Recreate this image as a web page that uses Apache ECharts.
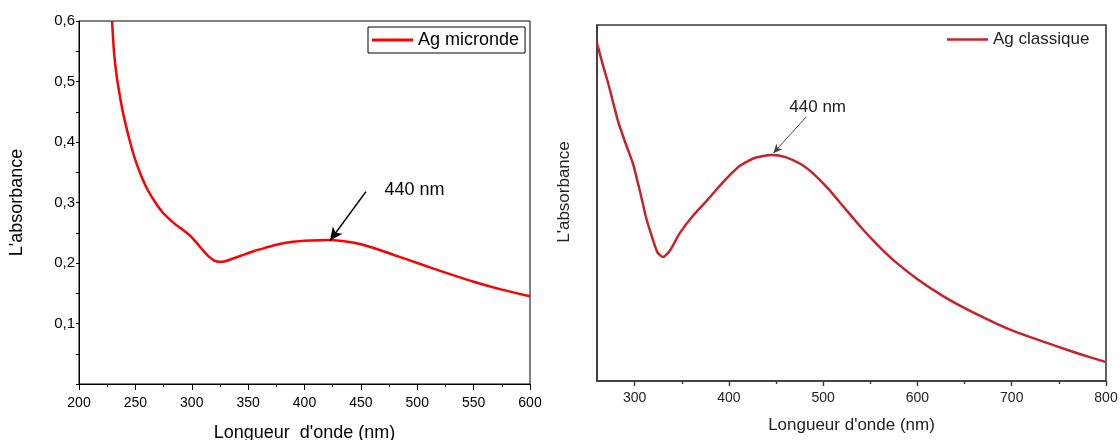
<!DOCTYPE html>
<html>
<head>
<meta charset="utf-8">
<script src="https://cdn.jsdelivr.net/npm/echarts@6/dist/echarts.min.js"></script>
<style>html,body{margin:0;padding:0;background:#fff}#c{width:1120px;height:440px}</style>
</head>
<body>
<div id="c"></div>
<script>
// Left panel: Ag micronde
const microndeNm = [229.3,231,233,235,238,241,245,250,255,260,267,274,280,286,292,298,304,310,315,320,324,330,336,345,354,365,377,390,405,420,435,450,466,483,500,525,550,575,600];
const microndeAbs = [0.600,0.550,0.515,0.490,0.458,0.432,0.402,0.370,0.345,0.324,0.302,0.284,0.273,0.263,0.255,0.246,0.234,0.221,0.211,0.204,0.202,0.203,0.207,0.213,0.219,0.225,0.231,0.235,0.237,0.238,0.236,0.231,0.222,0.211,0.200,0.184,0.169,0.156,0.145];
// Right panel: Ag classique (arbitrary units, no y scale shown)
const classiqueNm = [260,266,272,282,290,298,306,312,317,324,330,337,348,362,377,395,412,428,445,460,477,490,505,522,540,558,576,600,625,647,672,695,719,745,772,800];
const classiqueAbs = [0.949,0.890,0.835,0.733,0.670,0.612,0.528,0.460,0.416,0.362,0.348,0.365,0.416,0.465,0.508,0.562,0.605,0.627,0.635,0.629,0.608,0.581,0.541,0.488,0.432,0.381,0.336,0.286,0.242,0.209,0.176,0.148,0.124,0.100,0.076,0.053];
const leftYTicks = [0.1,0.2,0.3,0.4,0.5,0.6];
const rightMajorTicks = [300,400,500,600,700,800];
const rightMinorTicks = [350,450,550,650,750];
// annotations (data coordinates)
const leftArrow = [[454.5,0.318],[422.6,0.237]];
const leftNote = [471,0.321];
const rightArrow = [[482,0.742],[447,0.640]];
const rightNote = [464,0.770];

const zip = (a,b)=>a.map((v,i)=>[v,b[i]]);
const FONT = 'Liberation Sans, Arial, sans-serif';

const chart = echarts.init(document.getElementById('c'), null, {renderer:'canvas'});
chart.setOption({
  animation:false,
  textStyle:{fontFamily:FONT},
  grid:[
    {left:79, top:21, width:451, height:363, show:true, borderColor:'#000', borderWidth:1, containLabel:false, outerBoundsMode:'none'},
    {left:597, top:25, width:509, height:356, show:true, borderColor:'#3a3a3a', borderWidth:1.6, containLabel:false, outerBoundsMode:'none'}
  ],
  legend:[
    {data:['Ag micronde'], left:368, top:27, orient:'horizontal', padding:[4,6,4,4],
     borderColor:'#000', borderWidth:1, icon:'rect', itemWidth:41, itemHeight:3, itemGap:5,
     textStyle:{fontSize:18, color:'#000', fontFamily:FONT}},
    {data:['Ag classique'], left:947, top:31, padding:0, icon:'rect', itemWidth:41, itemHeight:2.5,
     textStyle:{fontSize:17, color:'#222', fontFamily:FONT}}
  ],
  xAxis:[
    {gridIndex:0, type:'value', min:200, max:600, interval:50,
     name:"Longueur  d'onde (nm)", nameLocation:'middle', nameGap:40,
     nameTextStyle:{fontSize:18, color:'#000'},
     axisLine:{lineStyle:{color:'#000', width:1}},
     axisTick:{show:true, length:6, lineStyle:{color:'#000'}},
     minorTick:{show:true, splitNumber:2, length:3, lineStyle:{color:'#000'}},
     axisLabel:{fontSize:14, color:'#000', margin:12},
     splitLine:{show:false}},
    {gridIndex:1, type:'value', min:260, max:800, position:'bottom',
     name:"Longueur d'onde (nm)", nameLocation:'middle', nameGap:36,
     nameTextStyle:{fontSize:17, color:'#222'},
     axisLine:{onZero:false, lineStyle:{color:'#3a3a3a', width:1.6}},
     axisTick:{show:true, length:5, customValues:rightMajorTicks, lineStyle:{color:'#3a3a3a', width:1.4}},
     axisLabel:{fontSize:14, color:'#222', margin:10, customValues:rightMajorTicks},
     splitLine:{show:false}},
    {gridIndex:1, type:'value', min:260, max:800, position:'bottom',
     axisLine:{show:false, onZero:false},
     axisTick:{show:true, inside:false, length:3, customValues:rightMinorTicks, lineStyle:{color:'#3a3a3a', width:1.4}},
     axisLabel:{show:false, customValues:rightMinorTicks},
     splitLine:{show:false}}
  ],
  yAxis:[
    {gridIndex:0, type:'value', min:0, max:0.6, interval:0.1,
     name:"L'absorbance", nameLocation:'middle', nameGap:53,
     nameTextStyle:{fontSize:18, color:'#000'},
     axisLine:{show:true, lineStyle:{color:'#000', width:1}},
     axisTick:{show:true, length:3, lineStyle:{color:'#000'}},
     minorTick:{show:true, splitNumber:2, length:3, lineStyle:{color:'#000'}},
     axisLabel:{fontSize:15, color:'#000', margin:4,
       formatter:v=>leftYTicks.some(t=>Math.abs(t-v)<1e-9)? v.toFixed(1).replace('.',',') : ''},
     splitLine:{show:false}},
    {gridIndex:1, type:'value', min:0, max:1,
     name:"L'absorbance", nameLocation:'middle', nameGap:24,
     nameTextStyle:{fontSize:17, color:'#222', padding:[0,0,0,22]},
     axisLine:{show:true, lineStyle:{color:'#3a3a3a', width:1.6}},
     axisTick:{show:false}, axisLabel:{show:false}, splitLine:{show:false}}
  ],
  series:[
    {name:'Ag micronde', type:'line', xAxisIndex:0, yAxisIndex:0, data:zip(microndeNm, microndeAbs),
     showSymbol:false, symbol:'none', smooth:0.25, color:'#ff0000',
     lineStyle:{color:'#ff0000', width:2.5},
     markLine:{silent:true, animation:false, symbol:['none','arrow'], symbolSize:[9,13],
       lineStyle:{color:'#000', width:1.6, type:'solid'}, label:{show:false},
       data:[[{coord:leftArrow[0]},{coord:leftArrow[1]}]]},
     markPoint:{silent:true, symbol:'circle', symbolSize:0,
       label:{show:true, position:'right', distance:0, formatter:'440 nm', fontSize:18, color:'#000', fontFamily:FONT},
       data:[{coord:leftNote}]}},
    {name:'Ag classique', type:'line', xAxisIndex:1, yAxisIndex:1, data:zip(classiqueNm, classiqueAbs),
     showSymbol:false, symbol:'none', smooth:0.2, color:'#c8232b',
     lineStyle:{color:'#c8232b', width:2.5},
     markLine:{silent:true, animation:false, symbol:['none','arrow'], symbolSize:[6,9],
       lineStyle:{color:'#444', width:1, type:'solid'}, label:{show:false},
       data:[[{coord:rightArrow[0]},{coord:rightArrow[1]}]]},
     markPoint:{silent:true, symbol:'circle', symbolSize:0,
       label:{show:true, position:'right', distance:0, formatter:'440 nm', fontSize:17, color:'#222', fontFamily:FONT},
       data:[{coord:rightNote}]}}
  ]
});
</script>
</body>
</html>
